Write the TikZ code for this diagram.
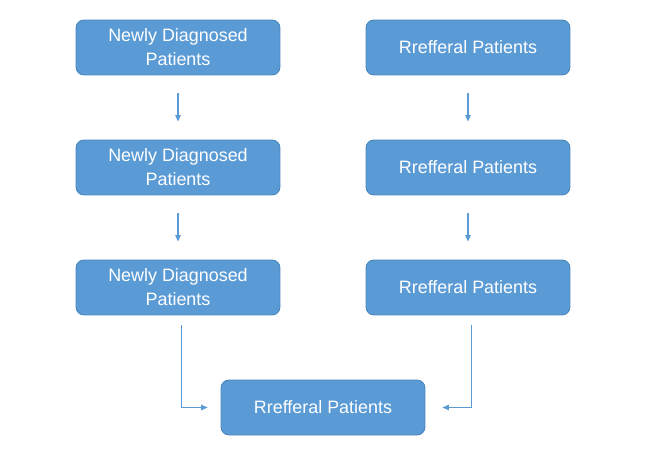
\documentclass[tikz,border=0pt]{standalone}
\usepackage{fontspec}
\setmainfont{Liberation Sans}
\usepackage{xcolor}
\usepackage{tikz}
\usetikzlibrary{positioning, arrows.meta}
\definecolor{boxblue}{HTML}{5B9BD5}
\definecolor{boxedge}{HTML}{4A86BE}
\tikzset{
  patbox/.style={draw=boxedge, fill=boxblue, rounded corners=0.16cm, align=center,
                 minimum width=4.08cm, minimum height=1.1cm, text=white, line width=0.5pt,
                 font=\fontsize{10.2}{13.6}\selectfont},
  flow/.style  ={-{Triangle[length=1.3mm, width=1.1mm]}, draw=boxblue, line width=0.6pt},
}

\begin{document}
\begin{tikzpicture}[x=0.02cm, y=-0.02cm]
  \useasboundingbox (0,0) rectangle (662,456);
  % left column
  \node[patbox] (nd1) at (178,47.5)  {Newly Diagnosed\\Patients};
  \node[patbox] (nd2) at (178,167.5) {Newly Diagnosed\\Patients};
  \node[patbox] (nd3) at (178,287.5) {Newly Diagnosed\\Patients};
  % right column
  \node[patbox] (rf1) at (468,47.5)  {Rrefferal Patients};
  \node[patbox] (rf2) at (468,167.5) {Rrefferal Patients};
  \node[patbox] (rf3) at (468,287.5) {Rrefferal Patients};
  % bottom
  \node[patbox] (rfb) at (323,407.5) {Rrefferal Patients};
  \draw[flow, shorten <=0.36cm, shorten >=0.36cm] (nd1) -- (nd2);
  \draw[flow, shorten <=0.36cm, shorten >=0.36cm] (nd2) -- (nd3);
  \draw[flow, shorten <=0.36cm, shorten >=0.36cm] (rf1) -- (rf2);
  \draw[flow, shorten <=0.36cm, shorten >=0.36cm] (rf2) -- (rf3);
  \draw[flow, shorten <=0.2cm, shorten >=0.26cm] ([xshift=2]nd3.south) |- (rfb.west);
  \draw[flow, shorten <=0.2cm, shorten >=0.34cm] ([xshift=2]rf3.south) |- (rfb.east);
\end{tikzpicture}
\end{document}
